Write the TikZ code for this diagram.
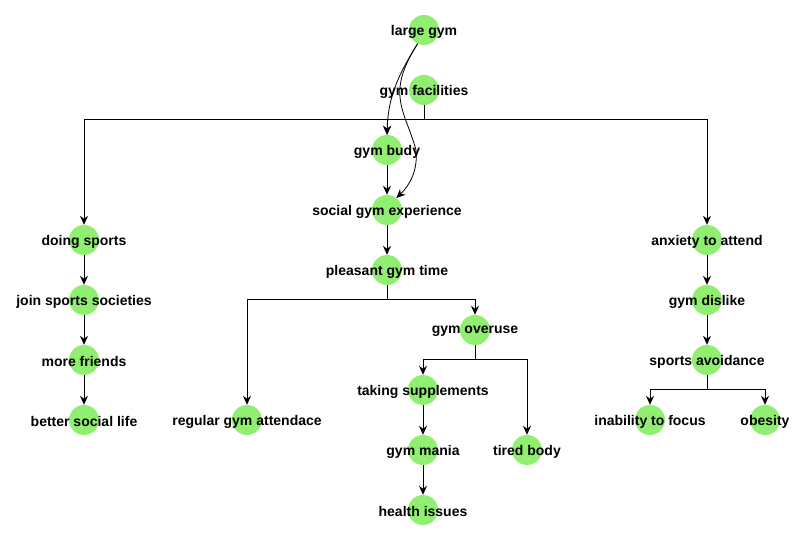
\documentclass[tikz,border=0pt]{standalone}
\usepackage{fontspec}
\setmainfont{Liberation Sans}
\usetikzlibrary{arrows.meta}
\definecolor{nodegreen}{RGB}{144,238,112}
\tikzset{
  circ/.style={circle,fill=nodegreen,draw=none,minimum size=30pt,inner sep=0pt},
  lbl/.style={font=\fontsize{14}{16}\selectfont\bfseries,text=black,inner sep=0pt,yshift=-1.5pt},
  conn/.style={draw=black,line width=1pt,-{Stealth[length=9pt,width=8pt,inset=3pt]}},
  thin/.style={draw=black,line width=0.8pt,-{Stealth[length=9pt,width=8pt,inset=3pt]}}
}
\newcommand{\gnode}[3]{\node[circ,label={[lbl]center:#3}] (#1) at #2 {};}
\begin{document}
\begin{tikzpicture}[x=1pt,y=-1pt]
\useasboundingbox (0,0) rectangle (807,540);
\gnode{lg}{(424,30)}{large gym}
\gnode{gf}{(424,90)}{gym facilities}
\gnode{gb}{(387,150)}{gym budy}
\gnode{sge}{(387,210)}{social gym experience}
\gnode{pgt}{(387,270)}{pleasant gym time}
\gnode{ds}{(84,240)}{doing sports}
\gnode{jss}{(84,300)}{join sports societies}
\gnode{mf}{(84,360)}{more friends}
\gnode{bsl}{(84,420)}{better social life}
\gnode{ata}{(707,240)}{anxiety to attend}
\gnode{gd}{(707,300)}{gym dislike}
\gnode{sa}{(707,360)}{sports avoidance}
\gnode{itf}{(650,420)}{inability to focus}
\gnode{ob}{(765,420)}{obesity}
\gnode{rga}{(247,420)}{regular gym attendace}
\gnode{go}{(475,330)}{gym overuse}
\gnode{ts}{(423,390)}{taking supplements}
\gnode{gm}{(423,450)}{gym mania}
\gnode{hi}{(423,510)}{health issues}
\gnode{tb}{(527,450)}{tired body}
\coordinate (bend) at (416,150);
% tree edges
\draw[conn] (gf.south) |- (84,120) -- (ds.north);
\draw[conn] (gf.south) |- (707,120) -- (ata.north);
\draw[conn] (gf.south) |- (387,120) -- (gb.north);
\draw[conn] (gb) -- (sge);
\draw[conn] (sge) -- (pgt);
\draw[conn] (pgt.south) |- (247,300) -- (rga.north);
\draw[conn] (pgt.south) |- (475,300) -- (go.north);
\draw[conn] (go.south) |- (423,360) -- (ts.north);
\draw[conn] (go.south) |- (527,360) -- (tb.north);
\draw[conn] (ts) -- (gm);
\draw[conn] (gm) -- (hi);
\draw[conn] (ds) -- (jss);
\draw[conn] (jss) -- (mf);
\draw[conn] (mf) -- (bsl);
\draw[conn] (ata) -- (gd);
\draw[conn] (gd) -- (sa);
\draw[conn] (sa.south) |- (650,390) -- (itf.north);
\draw[conn] (sa.south) |- (765,390) -- (ob.north);
% curved edges
\draw[thin] (lg.-115) .. controls (396,78) and (388,100) .. (gb.north);
\draw[thin] (lg.-115) .. controls (385,95) and (405,110) .. (bend) .. controls (418,170) and (410,185) .. (sge.52);
\end{tikzpicture}
\end{document}
